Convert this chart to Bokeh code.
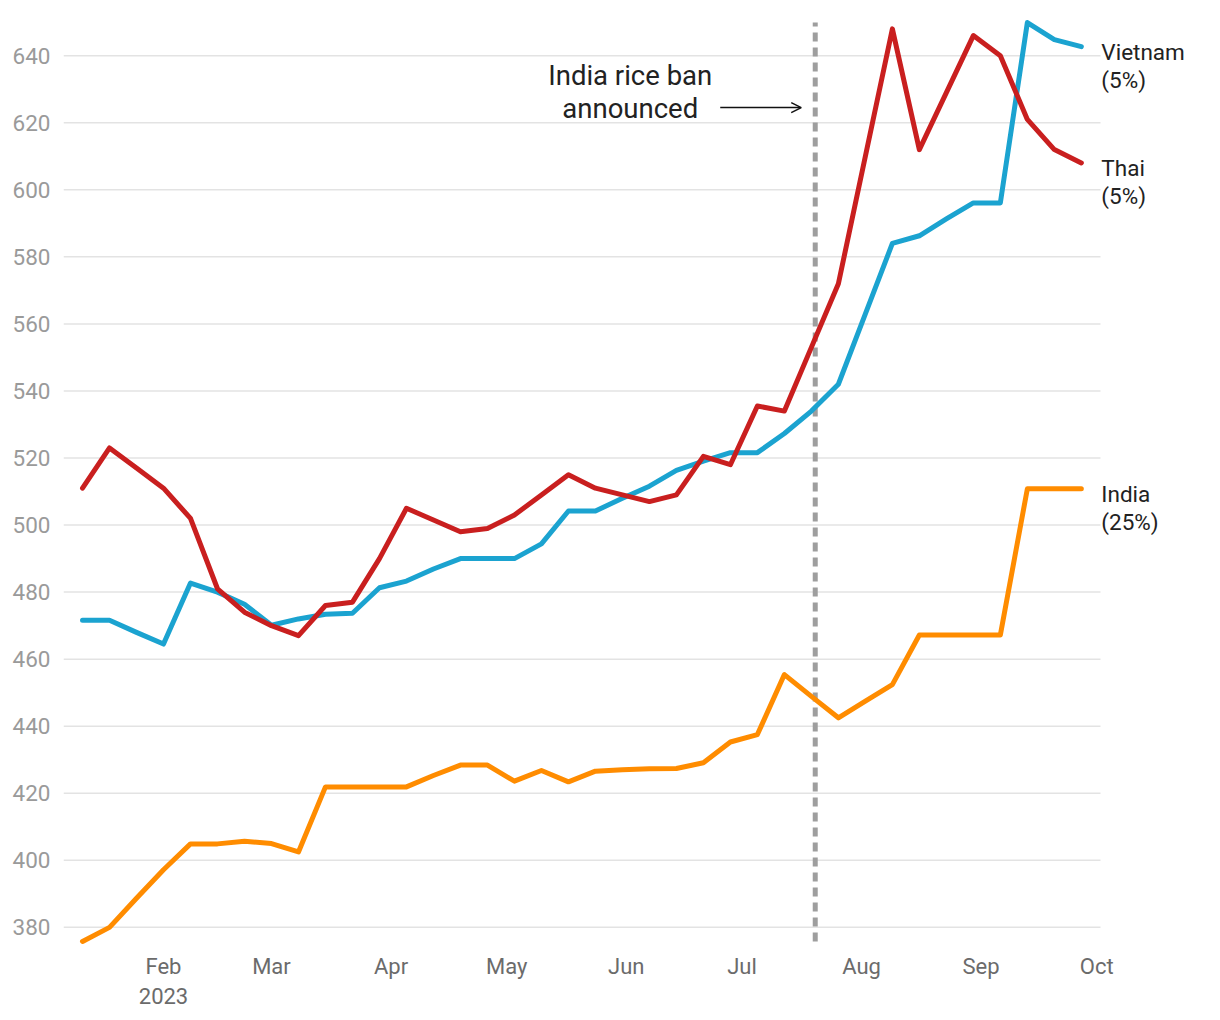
from datetime import datetime, timedelta
from bokeh.plotting import figure
from bokeh.models import ColumnDataSource, FixedTicker, Label, Arrow, OpenHead
from bokeh.embed import file_html
from bokeh.resources import INLINE

# ---- data ----
start_date = datetime(2023, 1, 11)
n_weeks = 38
dates = [start_date + timedelta(days=7 * i) for i in range(n_weeks)]

thai = [511, 523, 517, 511, 502, 481, 474, 470, 467, 476,
        477, 490, 505, 501.5, 498, 499, 503, 509, 515, 511,
        509, 507, 509, 520.5, 518, 535.5, 534, 553, 572, 610,
        648, 612, 629, 646, 640, 621, 612, 608]
vietnam = [471.6, 471.6, 468, 464.5, 482.7, 480, 476.4, 470.1, 472, 473.4,
           473.7, 481.3, 483.3, 486.9, 490, 490, 490, 494.4, 504.2, 504.2,
           508, 511.6, 516.3, 519.1, 521.6, 521.6, 527.3, 534, 542, 563,
           584, 586.3, 591.3, 596.1, 596.1, 649.9, 644.8, 642.7]
india = [375.8, 380, 388.7, 397.2, 404.9, 404.9, 405.7, 405, 402.5, 421.9,
         421.9, 421.9, 421.9, 425.3, 428.4, 428.4, 423.6, 426.8, 423.4, 426.6,
         427, 427.3, 427.4, 429.1, 435.3, 437.5, 455.4, 448.9, 442.5, 447.5,
         452.4, 467.2, 467.2, 467.2, 467.2, 510.8, 510.8, 510.8]

series_names = ["Vietnam", "Thai", "India"]
series_sub = ["(5%)", "(5%)", "(25%)"]
series_vals = [vietnam, thai, india]
series_colors = ["#1ba3d0", "#c91f1f", "#ff8c00"]

y_ticks = list(range(380, 641, 20))
month_ticks = [datetime(2023, m, 1) for m in range(2, 11)]
month_labels = ["Feb\n2023", "Mar", "Apr", "May", "Jun", "Jul", "Aug", "Sep", "Oct"]

ban_date = datetime(2023, 7, 20)
ban_text = "India rice ban\nannounced"

FONT = "Roboto"

def ms(d):
    return (d - datetime(1970, 1, 1)).total_seconds() * 1000.0

DAY = 86400000.0
W, H = 1212, 1016
FRAME_L, FRAME_T, FRAME_B = 63, 15, 952
GRID_R = 1100
px_per_day = (GRID_R - FRAME_L) / 268.9
x_start = ms(start_date) - 4.93 * DAY
x_grid_end = x_start + 268.9 * DAY
x_end = x_start + (W - FRAME_L) / px_per_day * DAY

p = figure(width=W, height=H, x_axis_type="datetime",
           x_range=(x_start, x_end), y_range=(372.5, 652),
           output_backend="svg", toolbar_location=None,
           min_border_left=FRAME_L, min_border_right=0, min_border_top=FRAME_T,
           min_border_bottom=H - FRAME_B)
p.outline_line_color = None
p.background_fill_color = "white"
p.border_fill_color = "white"

# grid (drawn manually so it stops before the end labels)
p.xgrid.grid_line_color = None
p.ygrid.grid_line_color = None
p.segment(x0=[x_start] * len(y_ticks), y0=y_ticks, x1=[x_grid_end] * len(y_ticks), y1=y_ticks,
          line_color="#e3e3e3", line_width=1.5)

# y axis
p.yaxis.ticker = FixedTicker(ticks=y_ticks)
p.yaxis.axis_line_color = None
p.yaxis.major_tick_line_color = None
p.yaxis.minor_tick_line_color = None
p.yaxis.major_tick_out = 0
p.yaxis.major_tick_in = 0
p.yaxis.major_label_text_font = FONT
p.yaxis.major_label_text_font_size = "22.5px"
p.yaxis.major_label_text_color = "#9a9a9a"
p.yaxis.major_label_standoff = 13

# x axis
tick_ms = [ms(d) for d in month_ticks]
p.xaxis.ticker = FixedTicker(ticks=tick_ms)
p.xaxis.major_label_overrides = {t: lab for t, lab in zip(tick_ms, month_labels)}
p.xaxis.axis_line_color = None
p.xaxis.major_tick_line_color = None
p.xaxis.minor_tick_line_color = None
p.xaxis.major_tick_out = 0
p.xaxis.major_tick_in = 0
p.xaxis.major_label_text_font = FONT
p.xaxis.major_label_text_font_size = "22px"
p.xaxis.major_label_text_color = "#6b6b6b"
p.xaxis.major_label_standoff = 1

# vertical ban line
all_vals = thai + vietnam + india
p.segment(x0=[ban_date], y0=[min(all_vals)], x1=[ban_date], y1=[max(all_vals)],
          line_color="#9e9e9e", line_width=5, line_dash="9 6")

# series
for name, sub, vals, col in zip(series_names, series_sub, series_vals, series_colors):
    src = ColumnDataSource(dict(x=dates, y=vals))
    p.line("x", "y", source=src, line_color=col, line_width=5, line_join="round", line_cap="round")
    p.add_layout(Label(x=ms(dates[-1]), y=vals[-1], text=name, x_offset=20, y_offset=-5,
                       text_font=FONT, text_font_size="22.5px", text_color="#222222",
                       text_baseline="middle", text_align="left"))
    p.add_layout(Label(x=ms(dates[-1]), y=vals[-1], text=sub, x_offset=20, y_offset=-33,
                       text_font=FONT, text_font_size="22.5px", text_color="#222222",
                       text_baseline="middle", text_align="left"))

# annotation
ban_ms = ms(ban_date)
ann_lines = ban_text.split("\n")
p.add_layout(Label(x=ban_ms, y=max(all_vals), text=ann_lines[0], x_offset=-185, y_offset=-53,
                   text_font=FONT, text_font_size="27.5px", text_color="#222222",
                   text_align="center", text_baseline="middle"))
p.add_layout(Label(x=ban_ms, y=max(all_vals), text=ann_lines[1], x_offset=-185, y_offset=-86,
                   text_font=FONT, text_font_size="27.5px", text_color="#222222",
                   text_align="center", text_baseline="middle"))
arrow_y = max(all_vals) - 85 / 3.352
p.add_layout(Arrow(x_start=ban_ms - 95 / px_per_day * DAY, y_start=arrow_y,
                   x_end=ban_ms - 14 / px_per_day * DAY, y_end=arrow_y,
                   line_color="#111111", line_width=1.5,
                   end=OpenHead(size=10, line_color="#111111", line_width=1.5)))

open("out.html", "w").write(file_html(p, INLINE))
